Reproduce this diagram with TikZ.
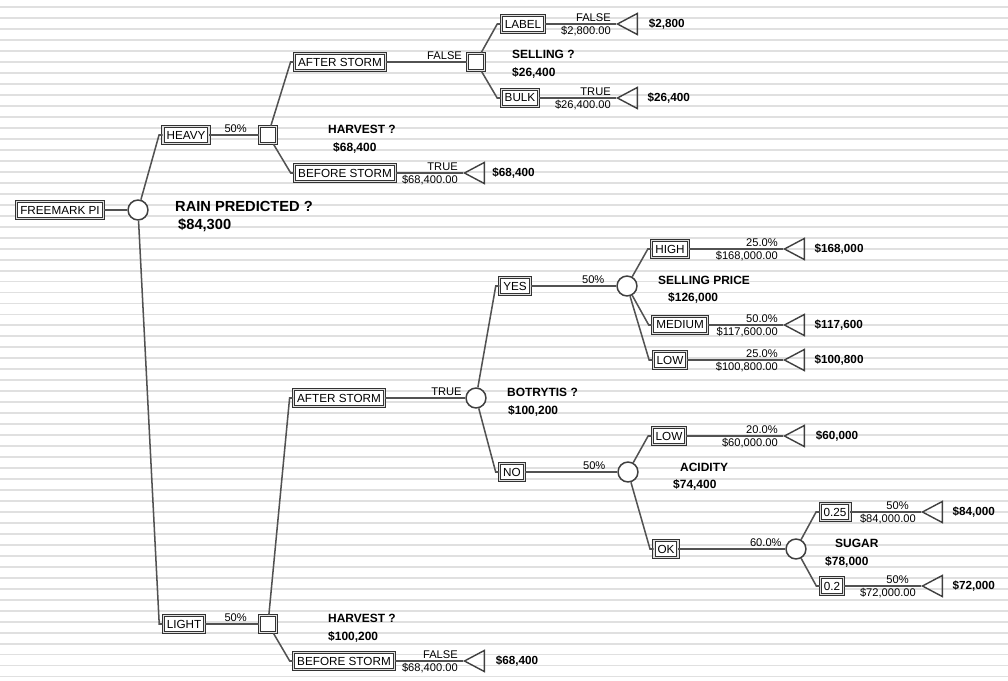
\documentclass[tikz,border=0pt]{standalone}
\usepackage{fontspec}
\setmainfont{Liberation Sans}
\usetikzlibrary{shapes.geometric}
\tikzset{
  stripe/.style={draw=black!12, line width=1.6pt},
  conn/.style={draw=black!68, line width=1.3pt},
  optbox/.style={rectangle, draw=black!80, line width=0.85pt, double=black!12, double distance=1pt, fill=white, inner xsep=3pt, inner ysep=0pt, minimum height=15pt, font=\fontsize{10}{10}\selectfont},
  decsq/.style={rectangle, draw=black!80, line width=0.85pt, double=black!10, double distance=0.9pt, fill=white, minimum size=15pt, inner sep=0pt},
  chance/.style={circle, draw=black!75, line width=1.3pt, fill=white, minimum size=17pt, inner sep=0pt},
  endtri/.style={isosceles triangle, shape border rotate=180, isosceles triangle stretches, minimum width=18pt, minimum height=17pt, draw=black!75, line width=1.2pt, inner sep=0pt},
  qtxt/.style={anchor=west, inner sep=0pt, font=\bfseries\fontsize{10.2}{10}\selectfont},
  bigq/.style={anchor=west, inner sep=0pt, font=\bfseries\fontsize{12.5}{12}\selectfont},
  payoff/.style={anchor=west, inner sep=0pt, font=\bfseries\fontsize{10}{10}\selectfont},
  tagl/.style={anchor=south east, inner sep=1.5pt, font=\fontsize{9.5}{9}\selectfont},
  amtl/.style={anchor=north east, inner sep=1.5pt, font=\fontsize{9.5}{9}\selectfont}
}
\begin{document}
\begin{tikzpicture}[x=0.03cm, y=-0.03cm]
\useasboundingbox (0,0) rectangle (1008,681);
\fill[white] (0,0) rectangle (1008,681);
\foreach \k in {0,...,61}
  \draw[stripe] (0,{7.3+10.97*\k}) -- (1008,{7.3+10.97*\k});
% root
\node[optbox] (fm) at (60,210) {FREEMARK PI};
\node[chance] (rain) at (138,210) {};
\node[bigq] (qrain) at (175,206) {RAIN PREDICTED ?};
\node[bigq] (vrain) at (178,225) {\$84,300};
\draw[conn] (fm.east) -- (rain);
% heavy rain
\node[optbox] (heavy) at (186,135) {HEAVY};
\node[decsq] (hvsq) at (268,135) {};
\node[qtxt] (qhv) at (328,129) {HARVEST ?};
\node[qtxt] (vhv) at (333,148) {\$68,400};
\node[optbox] (aft1) at (340,62) {AFTER STORM};
\node[decsq] (sell) at (476,62) {};
\node[qtxt] (qsell) at (512,54) {SELLING ?};
\node[qtxt] (vsell) at (512,73) {\$26,400};
\node[optbox] (lab) at (523,24) {LABEL};
\node[endtri] (t1) at (631,24) {};
\node[payoff, right=9pt] (v1) at (t1.east) {\$2,800};
\node[optbox] (bulk) at (520,98) {BULK};
\node[endtri] (t2) at (631,98) {};
\node[payoff, right=8pt] (v2) at (t2.east) {\$26,400};
\node[optbox] (bef1) at (345,173) {BEFORE STORM};
\node[endtri] (t3) at (478,173) {};
\node[payoff, right=6pt] (v3) at (t3.east) {\$68,400};
\draw[conn] (rain) -- ([xshift=-3pt]heavy.west) -- (heavy.west);
\draw[conn] (heavy.east) -- (hvsq) node[pos=1, tagl, xshift=-8pt] (p1) {50\%};
\draw[conn] (hvsq) -- ([xshift=-3pt]aft1.west) -- (aft1.west);
\draw[conn] (hvsq) -- ([xshift=-3pt]bef1.west) -- (bef1.west);
\draw[conn] (aft1.east) -- (sell) node[pos=1, tagl, xshift=-2pt] (p2) {FALSE};
\draw[conn] (sell) -- ([xshift=-3pt]lab.west) -- (lab.west);
\draw[conn] (sell) -- ([xshift=-3pt]bulk.west) -- (bulk.west);
\draw[conn] (lab.east) -- (t1) node[pos=1, tagl, xshift=-2pt] (p3) {FALSE}
  node[pos=1, amtl, xshift=-2pt] (m3) {\$2,800.00};
\draw[conn] (bulk.east) -- (t2) node[pos=1, tagl, xshift=-2pt] (p4) {TRUE}
  node[pos=1, amtl, xshift=-2pt] (m4) {\$26,400.00};
\draw[conn] (bef1.east) -- (t3) node[pos=1, tagl, xshift=-2pt] (p5) {TRUE}
  node[pos=1, amtl, xshift=-2pt] (m5) {\$68,400.00};
% light rain
\node[optbox] (light) at (184,624) {LIGHT};
\node[decsq] (ltsq) at (268,624) {};
\node[qtxt] (qlt) at (328,618) {HARVEST ?};
\node[qtxt] (vlt) at (328,637) {\$100,200};
\node[optbox] (bef2) at (344,661) {BEFORE STORM};
\node[endtri] (t10) at (478,661) {};
\node[payoff, right=9pt] (v10) at (t10.east) {\$68,400};
\node[optbox] (aft2) at (339,398) {AFTER STORM};
\node[chance] (bot) at (476,398) {};
\node[qtxt] (qbot) at (507,392) {BOTRYTIS ?};
\node[qtxt] (vbot) at (508,411) {\$100,200};
\draw[conn] (rain) -- ([xshift=-3pt]light.west) -- (light.west);
\draw[conn] (light.east) -- (ltsq) node[pos=1, tagl, xshift=-8pt] (p6) {50\%};
\draw[conn] (ltsq) -- ([xshift=-3pt]aft2.west) -- (aft2.west);
\draw[conn] (ltsq) -- ([xshift=-3pt]bef2.west) -- (bef2.west);
\draw[conn] (bef2.east) -- (t10) node[pos=1, tagl, xshift=-2pt] (p7) {FALSE}
  node[pos=1, amtl, xshift=-2pt] (m7) {\$68,400.00};
\draw[conn] (aft2.east) -- (bot) node[pos=1, tagl, xshift=-1pt] (p8) {TRUE};
% botrytis yes
\node[optbox] (yes) at (515,286) {YES};
\node[chance] (sp) at (627,286) {};
\node[qtxt] (qsp) at (658,280) {SELLING PRICE};
\node[qtxt] (vsp) at (668,298) {\$126,000};
\node[optbox] (high) at (670,249) {HIGH};
\node[endtri] (t4) at (798,249) {};
\node[payoff, right=8pt] (v4) at (t4.east) {\$168,000};
\node[optbox] (med) at (680,325) {MEDIUM};
\node[endtri] (t5) at (798,325) {};
\node[payoff, right=8pt] (v5) at (t5.east) {\$117,600};
\node[optbox] (low1) at (670,360) {LOW};
\node[endtri] (t6) at (798,360) {};
\node[payoff, right=8pt] (v6) at (t6.east) {\$100,800};
\draw[conn] (bot) -- ([xshift=-3pt]yes.west) -- (yes.west);
\draw[conn] (yes.east) -- (sp) node[pos=1, tagl, xshift=-8pt] (p9) {50\%};
\draw[conn] (sp) -- ([xshift=-3pt]high.west) -- (high.west);
\draw[conn] (sp) -- ([xshift=-3pt]med.west) -- (med.west);
\draw[conn] (sp) -- ([xshift=-3pt]low1.west) -- (low1.west);
\draw[conn] (high.east) -- (t4) node[pos=1, tagl, xshift=-2pt] (p10) {25.0\%}
  node[pos=1, amtl, xshift=-2pt] (m10) {\$168,000.00};
\draw[conn] (med.east) -- (t5) node[pos=1, tagl, xshift=-2pt] (p11) {50.0\%}
  node[pos=1, amtl, xshift=-2pt] (m11) {\$117,600.00};
\draw[conn] (low1.east) -- (t6) node[pos=1, tagl, xshift=-2pt] (p12) {25.0\%}
  node[pos=1, amtl, xshift=-2pt] (m12) {\$100,800.00};
% botrytis no
\node[optbox] (no) at (512,472) {NO};
\node[chance] (acid) at (628,472) {};
\node[qtxt] (qacid) at (680,467) {ACIDITY};
\node[qtxt] (vacid) at (673,485) {\$74,400};
\node[optbox] (low2) at (669,436) {LOW};
\node[endtri] (t7) at (798,436) {};
\node[payoff, right=9pt] (v7) at (t7.east) {\$60,000};
\node[optbox] (ok) at (666,549) {OK};
\node[chance] (sugar) at (796,549) {};
\node[qtxt] (qsug) at (835,543) {SUGAR};
\node[qtxt] (vsug) at (825,562) {\$78,000};
\node[optbox] (q25) at (835,512) {0.25};
\node[endtri] (t8) at (936,512) {};
\node[payoff, right=8pt] (v8) at (t8.east) {\$84,000};
\node[optbox] (q2) at (832,586) {0.2};
\node[endtri] (t9) at (936,586) {};
\node[payoff, right=8pt] (v9) at (t9.east) {\$72,000};
\draw[conn] (bot) -- ([xshift=-3pt]no.west) -- (no.west);
\draw[conn] (no.east) -- (acid) node[pos=1, tagl, xshift=-8pt] (p13) {50\%};
\draw[conn] (acid) -- ([xshift=-3pt]low2.west) -- (low2.west);
\draw[conn] (acid) -- ([xshift=-3pt]ok.west) -- (ok.west);
\draw[conn] (low2.east) -- (t7) node[pos=1, tagl, xshift=-2pt] (p14) {20.0\%}
  node[pos=1, amtl, xshift=-2pt] (m14) {\$60,000.00};
\draw[conn] (ok.east) -- (sugar) node[pos=1, tagl, xshift=-1pt] (p15) {60.0\%};
\draw[conn] (sugar) -- ([xshift=-3pt]q25.west) -- (q25.west);
\draw[conn] (sugar) -- ([xshift=-3pt]q2.west) -- (q2.west);
\draw[conn] (q25.east) -- (t8) node[pos=1, tagl, xshift=-8pt] (p16) {50\%}
  node[pos=1, amtl, xshift=-2pt] (m16) {\$84,000.00};
\draw[conn] (q2.east) -- (t9) node[pos=1, tagl, xshift=-8pt] (p17) {50\%}
  node[pos=1, amtl, xshift=-2pt] (m17) {\$72,000.00};
\end{tikzpicture}
\end{document}
